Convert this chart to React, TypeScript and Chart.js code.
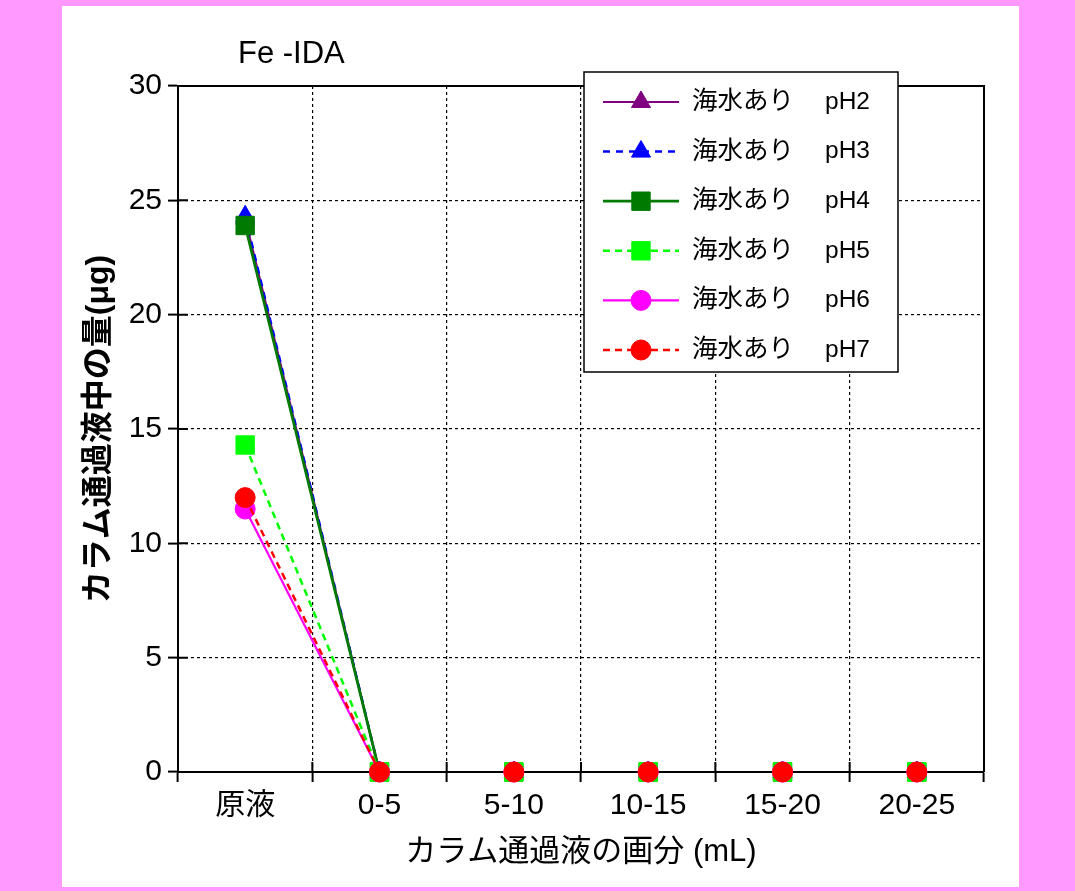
import React, { useEffect, useRef } from 'react';
import { Chart, registerables } from 'chart.js';
import { drawPoint } from 'chart.js/helpers';

Chart.register(...registerables);

// ---- data ----
const categories = ['原液', '0-5', '5-10', '10-15', '15-20', '20-25'];
const seriesNames = ['海水あり', '海水あり', '海水あり', '海水あり', '海水あり', '海水あり'];
const phLabels = ['pH2', 'pH3', 'pH4', 'pH5', 'pH6', 'pH7'];
const pH2Values = [24.2, 0, 0, 0, 0, 0];
const pH3Values = [24.3, 0, 0, 0, 0, 0];
const pH4Values = [23.9, 0, 0, 0, 0, 0];
const pH5Values = [14.3, 0, 0, 0, 0, 0];
const pH6Values = [11.5, 0, 0, 0, 0, 0];
const pH7Values = [12.0, 0, 0, 0, 0, 0];
const yMin = 0;
const yMax = 30;
const yStep = 5;
const chartTitle = 'Fe -IDA';
const xAxisTitle = 'カラム通過液の画分 (mL)';
const yAxisTitle = 'カラム通過液中の量(μg)';

// ---- styles ----
const FONT = '"Liberation Sans", Arial, "Noto Sans CJK JP", sans-serif';
const seriesValues = [pH2Values, pH3Values, pH4Values, pH5Values, pH6Values, pH7Values];
const seriesColors = ['#800080', '#0000ff', '#007a00', '#00ff00', '#ff00ff', '#ff0000'];
const seriesDash = [[], [7, 6], [], [7, 5], [], [7, 5]];
const seriesPointStyle = ['triangle', 'triangle', 'rect', 'rect', 'circle', 'circle'];
const seriesRadius = [11, 11, 13, 13, 10, 10];
const seriesLineWidth = [2.2, 2.5, 2.8, 2.5, 2.2, 2.5];

const CANVAS_W = 957;
const CANVAS_H = 881;

const framePlugin = {
  id: 'frameAndTicks',
  beforeDatasetsDraw(chart: any) {
    const { ctx, chartArea: a, scales } = chart;
    ctx.save();
    ctx.strokeStyle = '#000';
    ctx.lineWidth = 2;
    ctx.setLineDash([]);
    ctx.beginPath();
    ctx.moveTo(a.left, a.top);
    ctx.lineTo(a.right, a.top);
    ctx.lineTo(a.right, a.bottom);
    const ys = scales.y;
    ys.ticks.forEach((t: any) => {
      const py = ys.getPixelForValue(t.value);
      ctx.moveTo(a.left, py);
      ctx.lineTo(a.left + 10, py);
    });
    const xs = scales.x;
    for (let i = 0; i <= categories.length; i++) {
      const px = xs.getPixelForValue(i - 0.5);
      ctx.moveTo(px, a.bottom);
      ctx.lineTo(px, a.bottom - 10);
    }
    ctx.stroke();
    // title
    ctx.fillStyle = '#000';
    ctx.font = `31px ${FONT}`;
    ctx.textAlign = 'left';
    ctx.textBaseline = 'middle';
    ctx.fillText(chartTitle, a.left + 60, 48);
    ctx.restore();
  },
  afterDraw(chart: any) {
    const { ctx } = chart;
    const boxL = 522, boxT = 66, boxW = 314, boxH = 300;
    ctx.save();
    ctx.fillStyle = '#fff';
    ctx.fillRect(boxL, boxT, boxW, boxH);
    ctx.strokeStyle = '#000';
    ctx.lineWidth = 1.5;
    ctx.setLineDash([]);
    ctx.strokeRect(boxL, boxT, boxW, boxH);
    chart.data.datasets.forEach((ds: any, i: number) => {
      const cy = boxT + 30 + i * 49.6;
      ctx.save();
      ctx.strokeStyle = ds.borderColor;
      ctx.lineWidth = ds.borderWidth;
      ctx.setLineDash(ds.borderDash || []);
      ctx.beginPath();
      ctx.moveTo(boxL + 19, cy);
      ctx.lineTo(boxL + 95, cy);
      ctx.stroke();
      ctx.setLineDash([]);
      ctx.fillStyle = ds.pointBackgroundColor;
      ctx.strokeStyle = ds.pointBorderColor;
      ctx.lineWidth = ds.pointBorderWidth;
      drawPoint(ctx, { pointStyle: ds.pointStyle, radius: ds.pointRadius, rotation: 0, borderWidth: ds.pointBorderWidth }, boxL + 57, cy);
      ctx.restore();
      ctx.fillStyle = '#000';
      ctx.textAlign = 'left';
      ctx.textBaseline = 'middle';
      ctx.font = `25.5px ${FONT}`;
      ctx.fillText(seriesNames[i], boxL + 108, cy);
      ctx.font = `24.5px ${FONT}`;
      ctx.fillText(phLabels[i], boxL + 241, cy);
    });
    ctx.restore();
  },
};

export default function App() {
  const canvasRef = useRef<HTMLCanvasElement | null>(null);

  useEffect(() => {
    const canvas = canvasRef.current;
    if (!canvas) return;
    const datasets = seriesValues.map((vals, i) => ({
      label: `${seriesNames[i]} ${phLabels[i]}`,
      data: vals,
      borderColor: seriesColors[i],
      backgroundColor: seriesColors[i],
      borderWidth: seriesLineWidth[i],
      borderDash: seriesDash[i],
      pointStyle: seriesPointStyle[i],
      pointRadius: seriesRadius[i],
      pointBackgroundColor: seriesColors[i],
      pointBorderColor: seriesColors[i],
      pointBorderWidth: 1,
      order: seriesValues.length - 1 - i,
      tension: 0,
      clip: false,
      segment: {
        borderColor: (ctx: any) =>
          ctx.p0.parsed.y === 0 && ctx.p1.parsed.y === 0 ? 'rgba(0,0,0,0)' : undefined,
      },
    }));
    const chart = new Chart(canvas, {
      type: 'line',
      data: { labels: categories, datasets },
      options: {
        animation: false,
        responsive: false,
        devicePixelRatio: 1,
        layout: { padding: { top: 80, right: 35, left: 0, bottom: 0 } },
        plugins: {
          legend: { display: false },
          tooltip: { enabled: false },
          title: { display: false },
        },
        scales: {
          x: {
            type: 'category',
            offset: true,
            grid: {
              offset: true,
              color: '#000',
              lineWidth: 1.2,
              drawTicks: true,
              tickLength: 10,
              tickColor: '#000',
              tickWidth: 2,
              tickBorderDash: [],
            },
            border: { display: true, color: '#000', width: 2, dash: [3, 3] },
            ticks: {
              color: '#000',
              padding: 6,
              maxRotation: 0,
              autoSkip: false,
              font: { family: FONT, size: 30 },
            },
            title: {
              display: true,
              text: xAxisTitle,
              color: '#000',
              font: { family: FONT, size: 31 },
              padding: { top: 0, bottom: 16 },
            },
            afterFit: (scale: any) => {
              scale.height = 115;
            },
          },
          y: {
            min: yMin,
            max: yMax,
            ticks: {
              stepSize: yStep,
              color: '#000',
              padding: 6,
              font: { family: FONT, size: 30 },
            },
            grid: {
              color: '#000',
              lineWidth: 1.2,
              drawTicks: true,
              tickLength: 10,
              tickColor: '#000',
              tickWidth: 2,
              tickBorderDash: [],
            },
            border: { display: true, color: '#000', width: 2, dash: [3, 3] },
            title: {
              display: true,
              text: yAxisTitle,
              color: '#000',
              font: { family: FONT, size: 32, weight: 'bold' },
              padding: { top: 18, bottom: 0 },
            },
            afterFit: (scale: any) => {
              scale.width = 116;
            },
          },
        },
      },
      plugins: [framePlugin],
    } as any);
    return () => chart.destroy();
  }, []);

  return (
    <div
      style={{
        position: 'fixed',
        left: 0,
        top: 0,
        width: 1075,
        height: 891,
        background: '#ff99ff',
      }}
    >
      <div
        style={{
          position: 'absolute',
          left: 62,
          top: 6,
          width: CANVAS_W,
          height: CANVAS_H,
          background: '#ffffff',
        }}
      >
        <canvas
          ref={canvasRef}
          width={CANVAS_W}
          height={CANVAS_H}
          style={{ width: CANVAS_W, height: CANVAS_H, display: 'block' }}
        />
      </div>
    </div>
  );
}
